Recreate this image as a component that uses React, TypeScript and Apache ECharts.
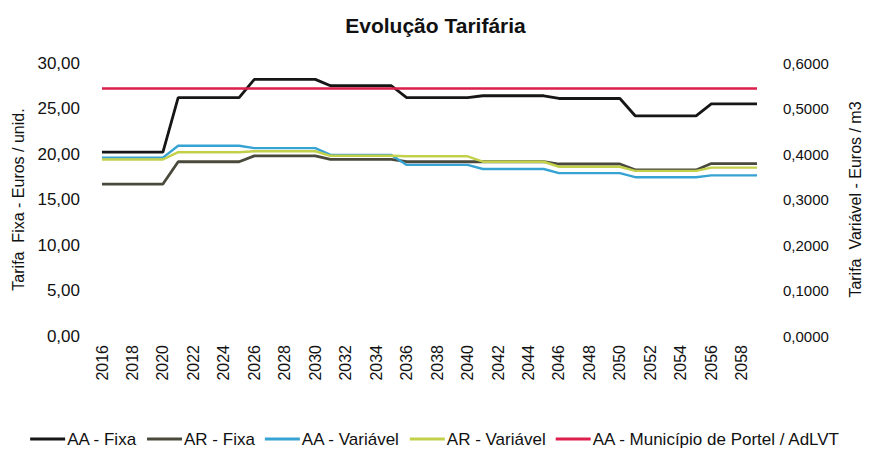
import React, { useEffect, useRef } from "react";
import * as echarts from "echarts";

const years = [
  "2016", "2017", "2018", "2019", "2020", "2021", "2022", "2023", "2024", "2025",
  "2026", "2027", "2028", "2029", "2030", "2031", "2032", "2033", "2034", "2035",
  "2036", "2037", "2038", "2039", "2040", "2041", "2042", "2043", "2044", "2045",
  "2046", "2047", "2048", "2049", "2050", "2051", "2052", "2053", "2054", "2055",
  "2056", "2057", "2058", "2059",
];

// Left axis (Euros / unid.)
const aaFixa = [
  20.2, 20.2, 20.2, 20.2, 20.2, 26.2, 26.2, 26.2, 26.2, 26.2,
  28.2, 28.2, 28.2, 28.2, 28.2, 27.5, 27.5, 27.5, 27.5, 27.5,
  26.2, 26.2, 26.2, 26.2, 26.2, 26.4, 26.4, 26.4, 26.4, 26.4,
  26.1, 26.1, 26.1, 26.1, 26.1, 24.2, 24.2, 24.2, 24.2, 24.2,
  25.5, 25.5, 25.5, 25.5,
];
const arFixa = [
  16.7, 16.7, 16.7, 16.7, 16.7, 19.15, 19.15, 19.15, 19.15, 19.15,
  19.8, 19.8, 19.8, 19.8, 19.8, 19.4, 19.4, 19.4, 19.4, 19.4,
  19.15, 19.15, 19.15, 19.15, 19.15, 19.15, 19.15, 19.15, 19.15, 19.15,
  18.9, 18.9, 18.9, 18.9, 18.9, 18.25, 18.25, 18.25, 18.25, 18.25,
  18.95, 18.95, 18.95, 18.95,
];
// Right axis (Euros / m3)
const aaVariavel = [
  0.392, 0.392, 0.392, 0.392, 0.392, 0.418, 0.418, 0.418, 0.418, 0.418,
  0.413, 0.413, 0.413, 0.413, 0.413, 0.398, 0.398, 0.398, 0.398, 0.398,
  0.376, 0.376, 0.376, 0.376, 0.376, 0.367, 0.367, 0.367, 0.367, 0.367,
  0.358, 0.358, 0.358, 0.358, 0.358, 0.349, 0.349, 0.349, 0.349, 0.349,
  0.353, 0.353, 0.353, 0.353,
];
const arVariavel = [
  0.388, 0.388, 0.388, 0.388, 0.388, 0.404, 0.404, 0.404, 0.404, 0.404,
  0.406, 0.406, 0.406, 0.406, 0.406, 0.396, 0.396, 0.396, 0.396, 0.396,
  0.395, 0.395, 0.395, 0.395, 0.395, 0.383, 0.383, 0.383, 0.383, 0.383,
  0.372, 0.372, 0.372, 0.372, 0.372, 0.363, 0.363, 0.363, 0.363, 0.363,
  0.37, 0.37, 0.37, 0.37,
];
const aaPortel = [
  0.544, 0.544, 0.544, 0.544, 0.544, 0.544, 0.544, 0.544, 0.544, 0.544,
  0.544, 0.544, 0.544, 0.544, 0.544, 0.544, 0.544, 0.544, 0.544, 0.544,
  0.544, 0.544, 0.544, 0.544, 0.544, 0.544, 0.544, 0.544, 0.544, 0.544,
  0.544, 0.544, 0.544, 0.544, 0.544, 0.544, 0.544, 0.544, 0.544, 0.544,
  0.544, 0.544, 0.544, 0.544,
];

const FONT = "'Liberation Sans', Arial, sans-serif";

export default function App() {
  const ref = useRef<HTMLDivElement>(null);
  useEffect(() => {
    if (!ref.current) return;
    const chart = echarts.init(ref.current, null, { renderer: "svg" });
    const mk = (name: string, data: number[], color: string, yAxisIndex: number, width = 2.6) => ({
      name,
      type: "line",
      data,
      yAxisIndex,
      symbol: "none",
      showSymbol: false,
      lineStyle: { color, width },
      itemStyle: { color },
    });
    chart.setOption({
      animation: false,
      backgroundColor: "#ffffff",
      textStyle: { fontFamily: FONT },
      title: {
        text: "Evolução Tarifária",
        left: "center",
        top: 10,
        textStyle: { fontFamily: FONT, fontSize: 21, fontWeight: "bold", color: "#111" },
      },
      grid: { left: 102, right: 109, top: 63, bottom: 114 },
      legend: {
        top: 424,
        left: "center",
        icon: "rect",
        itemWidth: 35,
        itemHeight: 3,
        itemGap: 10,
        textStyle: { fontFamily: FONT, fontSize: 17, lineHeight: 20, color: "#111", padding: [0, 0, 0, -3] },
        data: [
          "AA - Fixa",
          "AR - Fixa",
          "AA - Variável",
          "AR - Variável",
          "AA - Município de Portel / AdLVT",
        ],
      },
      xAxis: {
        type: "category",
        data: years,
        boundaryGap: false,
        axisLine: { show: false },
        axisTick: { show: false },
        splitLine: { show: false },
        axisLabel: {
          rotate: 90,
          interval: 1,
          margin: 9,
          fontFamily: FONT,
          fontSize: 16,
          color: "#111",
        },
      },
      yAxis: [
        {
          type: "value",
          min: 0,
          max: 30,
          interval: 5,
          name: "Tarifa  Fixa - Euros / unid.",
          nameLocation: "middle",
          nameRotate: 90,
          nameGap: 73,
          nameTextStyle: { fontFamily: FONT, fontSize: 16, color: "#111" },
          axisLine: { show: false },
          axisTick: { show: false },
          splitLine: { show: false },
          axisLabel: {
            margin: 22,
            fontFamily: FONT,
            fontSize: 17,
            color: "#111",
            formatter: (v: number) => v.toFixed(2).replace(".", ","),
          },
        },
        {
          type: "value",
          min: 0,
          max: 0.6,
          interval: 0.1,
          name: "Tarifa  Variável - Euros / m3",
          nameLocation: "middle",
          nameRotate: 90,
          nameGap: 90,
          nameTextStyle: { fontFamily: FONT, fontSize: 16, color: "#111" },
          axisLine: { show: false },
          axisTick: { show: false },
          splitLine: { show: false },
          axisLabel: {
            margin: 26,
            fontFamily: FONT,
            fontSize: 15,
            color: "#111",
            formatter: (v: number) => v.toFixed(4).replace(".", ","),
          },
        },
      ],
      series: [
        mk("AA - Fixa", aaFixa, "#161616", 0, 2.8),
        mk("AR - Fixa", arFixa, "#4a4a3c", 0, 2.8),
        mk("AA - Variável", aaVariavel, "#37a3d3", 1, 2.4),
        mk("AR - Variável", arVariavel, "#c3d04a", 1, 2.4),
        mk("AA - Município de Portel / AdLVT", aaPortel, "#dc1f4c", 1, 2.4),
      ],
    });
    return () => chart.dispose();
  }, []);
  return (
    <div
      ref={ref}
      style={{ position: "absolute", left: 0, top: 0, width: 871, height: 450 }}
    />
  );
}
